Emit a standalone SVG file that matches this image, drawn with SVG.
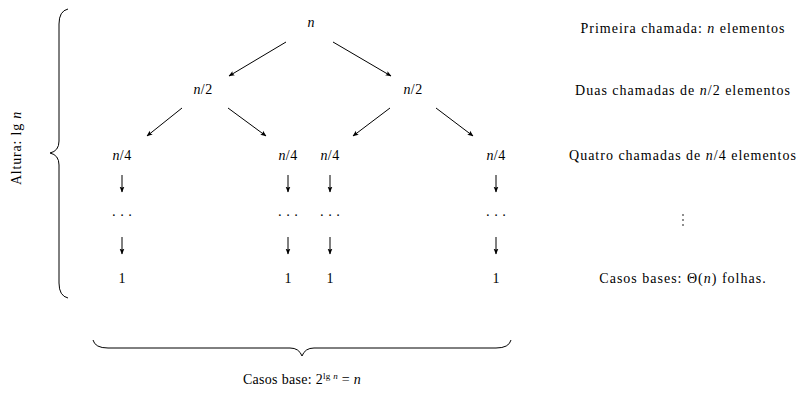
<svg xmlns="http://www.w3.org/2000/svg" width="800" height="397" viewBox="0 0 800 397">
<defs>
<marker id="ah" viewBox="0 0 10 10" refX="9" refY="5" markerWidth="6" markerHeight="6" markerUnits="userSpaceOnUse" orient="auto">
<path d="M0,1 L10,5 L0,9 L2,5 Z" fill="#000"/>
</marker>
<style>
text{font-family:"Liberation Serif","DejaVu Serif",serif;font-size:14px;fill:#000;text-anchor:middle}
.i{font-style:italic}
.n{letter-spacing:0.4px}
.lab{letter-spacing:1px}
.c line{stroke:#000;stroke-width:1;marker-end:url(#ah)}
.b{fill:none;stroke:#000;stroke-width:1}
</style>
</defs>
<rect width="800" height="397" fill="#fff"/>
<g id="root"><text x="311" y="27" class="i">n</text></g>
<g id="h1"><text class="n" x="203" y="94"><tspan class="i">n</tspan>/2</text></g>
<g id="h2"><text class="n" x="413" y="94"><tspan class="i">n</tspan>/2</text></g>
<g id="q1"><text class="n" x="122" y="160"><tspan class="i">n</tspan>/4</text></g>
<g id="q2"><text class="n" x="288" y="160"><tspan class="i">n</tspan>/4</text></g>
<g id="q3"><text class="n" x="330" y="160"><tspan class="i">n</tspan>/4</text></g>
<g id="q4"><text class="n" x="496" y="160"><tspan class="i">n</tspan>/4</text></g>
<g id="d1"><text x="122" y="220">· · ·</text></g>
<g id="d2"><text x="288" y="220">· · ·</text></g>
<g id="d3"><text x="330" y="220">· · ·</text></g>
<g id="d4"><text x="496" y="220">· · ·</text></g>
<g id="l1"><text x="122" y="283">1</text></g>
<g id="l2"><text x="288" y="283">1</text></g>
<g id="l3"><text x="330" y="283">1</text></g>
<g id="l4"><text x="496" y="283">1</text></g>
<g class="c" id="connectors">
<line x1="286" y1="42" x2="229" y2="76"/>
<line x1="333" y1="42" x2="391" y2="76"/>
<line x1="182" y1="108" x2="147" y2="136"/>
<line x1="228" y1="108" x2="266" y2="136"/>
<line x1="390" y1="108" x2="353" y2="136"/>
<line x1="436" y1="108" x2="473" y2="136"/>
<line x1="122" y1="175" x2="122" y2="192"/>
<line x1="288" y1="175" x2="288" y2="192"/>
<line x1="330" y1="175" x2="330" y2="192"/>
<line x1="496" y1="175" x2="496" y2="192"/>
<line x1="122" y1="237" x2="122" y2="254"/>
<line x1="288" y1="237" x2="288" y2="254"/>
<line x1="330" y1="237" x2="330" y2="254"/>
<line x1="496" y1="237" x2="496" y2="254"/>
</g>
<g id="labels">
<text class="lab" x="683" y="33">Primeira chamada: <tspan class="i">n</tspan> elementos</text>
<text class="lab" x="683" y="95">Duas chamadas de <tspan class="i">n</tspan>/2 elementos</text>
<text class="lab" x="683" y="160">Quatro chamadas de <tspan class="i">n</tspan>/4 elementos</text>
<g fill="#000"><circle cx="683" cy="215" r="0.8"/><circle cx="683" cy="220" r="0.8"/><circle cx="683" cy="225" r="0.8"/></g>
<text class="lab" x="683" y="283">Casos bases: Θ(<tspan class="i">n</tspan>) folhas.</text>
</g>
<g id="leftbrace">
<path class="b" d="M68,9 Q59,11 59,24 L59,141 Q59,151 50,153 Q59,155 59,165 L59,283 Q59,296 68,298"/>
<text class="lab" style="letter-spacing:0.8px" transform="translate(21,148) rotate(-90)">Altura: lg <tspan class="i">n</tspan></text>
</g>
<g id="bottombrace">
<path class="b" d="M93,340 Q95,348 108,348 L290,348 Q299,348 302,356 Q305,348 314,348 L496,348 Q509,348 511,340"/>
<text x="302" y="384" style="letter-spacing:0.3px">Casos base: 2<tspan dy="-5" font-size="9">lg <tspan class="i">n</tspan></tspan><tspan dy="5"> = </tspan><tspan class="i">n</tspan></text>
</g>
</svg>
